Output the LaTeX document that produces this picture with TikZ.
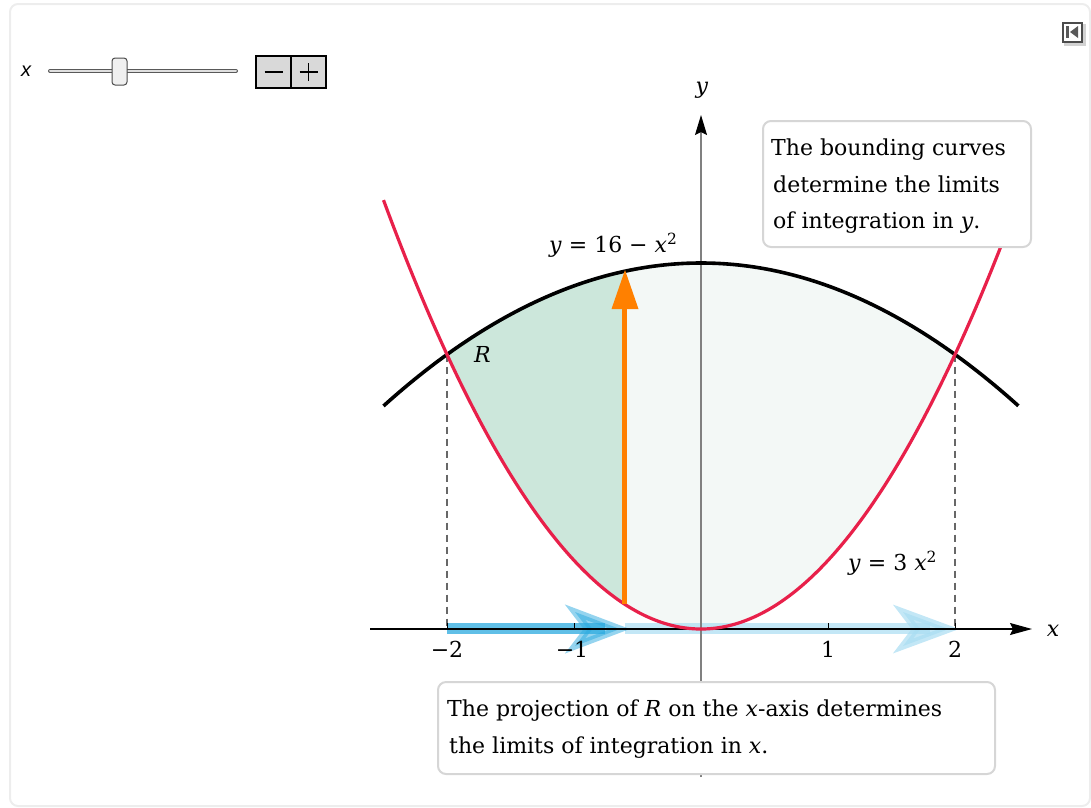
\documentclass[tikz,border=0pt]{standalone}
\usepackage{fontspec}
\setmainfont{DejaVu Serif}
\setsansfont{Liberation Sans}
\usetikzlibrary{arrows.meta}
\definecolor{crv}{HTML}{E8204A}
\definecolor{fillA}{HTML}{CCE7DB}
\definecolor{fillB}{HTML}{F3F8F6}
\definecolor{orng}{HTML}{FF8000}
\definecolor{bluA}{HTML}{2BAADF}
\definecolor{bluB}{HTML}{A9DDF2}
\definecolor{frm}{HTML}{EDEDED}
\definecolor{boxbd}{HTML}{D6D6D6}
\definecolor{axg}{HTML}{808080}
\tikzset{
  callout/.style={draw=boxbd, line width=2pt, fill=white, rounded corners=8pt, inner sep=0pt},
  txt/.style={anchor=base west, inner sep=0pt, font=\fontsize{22}{24}\selectfont},
  lbl/.style={anchor=base, inner sep=0pt, font=\fontsize{22}{24}\selectfont},
  btn/.style={draw=black, line width=2pt, fill=gray!30, minimum width=35pt, minimum height=32pt, inner sep=0pt, anchor=north west},
  dsh/.style={axg!80!black, line width=1.2pt, dash pattern=on 7pt off 5pt},
}
\begin{document}
\begin{tikzpicture}[x=1pt,y=-1pt]
\useasboundingbox (0,0) rectangle (1091,807);
% outer frame
\draw[frm, line width=2pt, rounded corners=8pt] (10,4) rectangle (1090,806);
% slider
\node[anchor=base, inner sep=0pt, font=\sffamily\itshape\fontsize{20}{22}\selectfont] (sx) at (26,76) {x};
\draw[line width=4pt, line cap=round, gray!70!black] (50,71) -- (236,71);
\draw[line width=2pt, line cap=round, gray!25] (50,71) -- (236,71);
\node[draw=gray!60!black, line width=1pt, fill=gray!12, rounded corners=3pt, minimum width=15pt, minimum height=27pt, inner sep=0pt] (thumb) at (119.5,71.5) {};
\node[btn] (bminus) at (255,55) {};
\node[btn] (bplus) at (290,55) {};
\draw[black, line width=1.5pt] ([xshift=-9pt]bminus.center) -- ([xshift=9pt]bminus.center);
\draw[black, line width=1.5pt] ([xshift=-9pt]bplus.center) -- ([xshift=9pt]bplus.center);
\draw[black, line width=1.5pt] ([yshift=-9pt]bplus.center) -- ([yshift=9pt]bplus.center);
% top-right icon
\fill[gray!35] (1064,24) rectangle (1086,46);
\node[draw=gray!60!black, line width=1.5pt, fill=white, minimum size=19pt, inner sep=0pt, anchor=north west] (icon) at (1062,22) {};
\fill[gray!70!black] (1066,26) rectangle (1069,38);
\fill[gray!70!black] (1078,26) -- (1070,32) -- (1078,38) -- cycle;

% ---------- plot in data coordinates ----------
\begin{scope}[shift={(701pt,-629pt)}, x=127pt, y=22.875pt]
  \fill[fillA] plot[domain=-2:-0.6, samples=60] (\x,{3*\x*\x}) -- plot[domain=-0.6:-2, samples=60] (\x,{16-\x*\x}) -- cycle;
  \fill[fillB] plot[domain=-0.6:2, samples=80] (\x,{3*\x*\x}) -- plot[domain=2:-0.6, samples=80] (\x,{16-\x*\x}) -- cycle;
  \coordinate (pL) at (-2,12);
  \coordinate (pR) at (2,12);
  \coordinate (aL) at (-2,0);
  \coordinate (aR) at (2,0);
  \draw[dsh] (pL) -- (aL);
  \draw[dsh] (pR) -- (aR);
\end{scope}

% blue projection arrows (pixel coordinates)
\coordinate (bA0) at (447,628.5);
\coordinate (bA1) at (605,628.5);
\coordinate (bB0) at (625,628.5);
\coordinate (bB1) at (930,628.5);
\draw[bluB, line width=11pt, opacity=0.7] (bB0) -- (bB1);
\fill[bluB, opacity=0.7] (949,629) -- (903,612) -- (916,629) -- (903,646) -- cycle;
\draw[bluB, opacity=0.7, line width=7pt, line join=miter] (949,629) -- (903,612) -- (916,629) -- (903,646) -- cycle;
\draw[bluA, line width=11pt, opacity=0.75] (bA0) -- (bA1);
\fill[bluA, opacity=0.5] (620,629) -- (575,612) -- (588,629) -- (575,646) -- cycle;
\draw[bluA, opacity=0.5, line width=7pt, line join=miter] (620,629) -- (575,612) -- (588,629) -- (575,646) -- cycle;

% axes
\coordinate (xs) at (370,629);
\coordinate (xe) at (1032,629);
\coordinate (ys) at (701,777);
\coordinate (ye) at (701,115);
\draw[axg, line width=1.3pt, -{Stealth[length=20pt,width=12pt,inset=3pt,color=black]}] (ys) -- (ye);
\draw[black, line width=1.1pt, -{Stealth[length=22pt,width=12pt,inset=3pt]}] (xs) -- (xe);
\foreach \px in {447, 574, 828, 955}{
  \draw[black, line width=1pt] (\px,629) -- (\px,623);
}
\node[lbl] (tm2) at (447,657) {−2};
\node[lbl] (tm1) at (572,657) {−1};
\node[lbl] (tp1) at (828,657) {1};
\node[lbl] (tp2) at (955,657) {2};
\node[lbl] (xl) at (1053,636) {\textit{x}};
\node[lbl] (yl) at (702,93) {\textit{y}};

% curves
\begin{scope}[shift={(701pt,-629pt)}, x=127pt, y=22.875pt]
  \draw[black, line width=3.6pt] plot[domain=-2.5:2.5, samples=120, smooth] (\x,{16-\x*\x});
  \draw[crv, line width=3.2pt] plot[domain=-2.5:2.5, samples=120, smooth] (\x,{3*\x*\x});
  \coordinate (oS) at (-0.6,1.08);
  \coordinate (oE) at (-0.6,14.0);
\end{scope}
% orange arrow
\draw[orng, line width=5pt] (oS) -- (oE);
\fill[orng] (625,270) -- (638.5,309) -- (611.5,309) -- cycle;

% labels
\node[txt] (lc1) at (549,252) {\textit{y} = 16 − \textit{x}\textsuperscript{2}};
\node[txt] (lc2) at (848,570) {\textit{y} = 3 \textit{x}\textsuperscript{2}};
\node[txt] (lR) at (474,362) {\textit{R}};

% callout boxes
\node[callout, anchor=north west, minimum width=268pt, minimum height=126pt] (boxA) at (762,120) {};
\node[txt] (tA1) at (771,155) {The bounding curves};
\node[txt] (tA2) at (773,192) {determine the limits};
\node[txt] (tA3) at (773,228) {of integration in \textit{y}.};
\node[callout, anchor=north west, minimum width=557pt, minimum height=92pt] (boxB) at (437,681) {};
\node[txt] (tB1) at (447,716) {The projection of \textit{R} on the \textit{x}-axis determines};
\node[txt] (tB2) at (449,753) {the limits of integration in \textit{x}.};
\end{tikzpicture}
\end{document}
